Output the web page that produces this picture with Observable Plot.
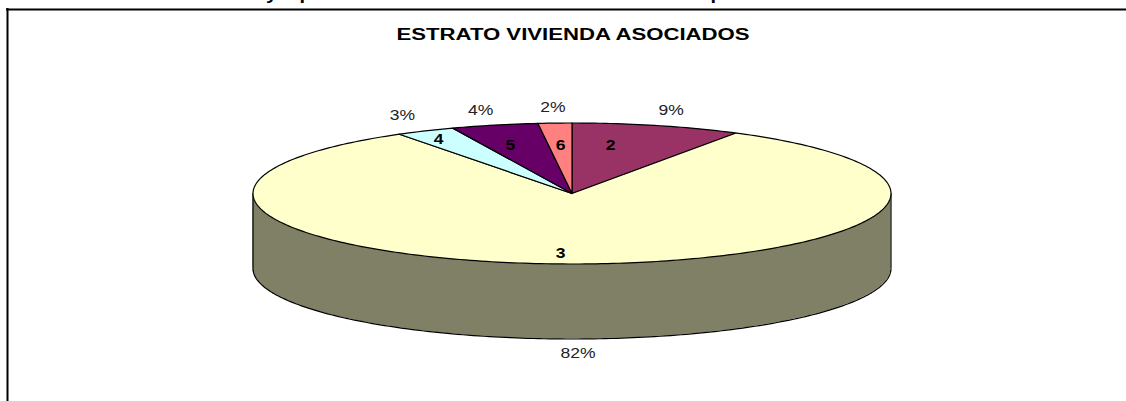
<!DOCTYPE html>
<html><head><meta charset="utf-8">
<script src="https://cdn.jsdelivr.net/npm/d3@7"></script>
<script src="https://cdn.jsdelivr.net/npm/@observablehq/plot@0.6"></script>
<style>html,body{margin:0;padding:0;background:#fff;overflow:hidden}svg{display:block;overflow:hidden}</style>
</head><body><div id="c"></div>
<script>
const chartTitle = "ESTRATO VIVIENDA ASOCIADOS";
const categories = ["2", "3", "4", "5", "6"];
const shares = [8.6, 82.3, 3.0, 4.4, 1.7];
const percentLabels = ["9%", "82%", "3%", "4%", "2%"];
const sliceColors = ["#993366", "#FFFFCC", "#CCFFFF", "#660066", "#FF8080"];
const wallColor = "#808066";

const font = "Liberation Sans, Arial, sans-serif";
const W = 1126, H = 401;
const cx = 571.5, rx = 319, cy = 193, ry = 70.5, depthPx = 75;
const depth = depthPx / ry;
const xRange = [cx - rx, cx + rx], yRange = [cy + ry, cy - ry];
const px2x = p => (p - cx) / rx;
const px2y = p => (cy - p) / ry;
const rad = a => a * Math.PI / 180;

// Slices run clockwise from 12 o'clock
const total = d3.sum(shares);
let acc = 0;
const slices = categories.map((c, i) => {
  const a0 = acc / total * 360; acc += shares[i];
  return {c, i, a0, a1: acc / total * 360, mid: (a0 + acc / total * 360) / 2, fill: sliceColors[i]};
});
const outline = [];
for (const s of slices) {
  outline.push({s: s.c, fill: s.fill, x: 0, y: 0});
  const n = Math.max(2, Math.ceil(s.a1 - s.a0));
  for (let k = 0; k <= n; k++) {
    const a = rad(s.a0 + (s.a1 - s.a0) * k / n);
    outline.push({s: s.c, fill: s.fill, x: Math.sin(a), y: Math.cos(a)});
  }
  outline.push({s: s.c, fill: s.fill, x: 0, y: 0});
}
const wall = d3.range(90, 271).map(a => ({x: Math.sin(rad(a)), y1: Math.cos(rad(a)), y2: Math.cos(rad(a)) - depth}));
const wallEdges = wall.flatMap(d => [{x: d.x, y: d.y2}]);

const innerNudge = [[-4, -14], [-14, 25], [-60, -23], [-23, -14], [-3, -13]];
const outerNudge = [[14, -15], [1, 90], [-23, -15], [-14, -15], [-2, -16]];
const fragments = [["y", 271], ["p", 305], ["p", 716]];

const labelMarks = slices.flatMap(s => [
  Plot.text([s], {x: d => 0.5 * Math.sin(rad(d.mid)), y: d => 0.5 * Math.cos(rad(d.mid)), text: d => d.c,
    dx: innerNudge[s.i][0], dy: innerNudge[s.i][1], fontFamily: font, fontSize: 14, fontWeight: "bold", fill: "#000"}),
  Plot.text([s], {x: d => Math.sin(rad(d.mid)), y: d => Math.cos(rad(d.mid)), text: d => percentLabels[d.i],
    dx: outerNudge[s.i][0], dy: outerNudge[s.i][1], fontFamily: font, fontSize: 14, fill: "#222"})
]);

const chart = Plot.plot({
  width: W, height: H, margin: 0,
  x: {type: "linear", domain: [-1, 1], range: xRange, axis: null},
  y: {type: "linear", domain: [-1, 1], range: yRange, axis: null},
  style: {background: "#fff"},
  marks: [
    Plot.ruleY([px2y(9)], {x1: px2x(6), x2: px2x(W), stroke: "#000", strokeWidth: 2}),
    Plot.ruleX([px2x(7)], {y1: px2y(8), y2: px2y(H), stroke: "#000", strokeWidth: 2}),
    Plot.text(fragments, {x: d => px2x(d[1]), y: px2y(-1), text: d => d[0], fontFamily: font, fontSize: 16, fontWeight: "bold", fill: "#000", lineAnchor: "bottom"}),
    Plot.text([chartTitle], {x: px2x(572.5), y: px2y(34.5), text: d => d, fontFamily: font, fontSize: 16, fontWeight: "bold", fill: "#000"}),
    Plot.areaY(wall, {x: "x", y1: "y1", y2: "y2", fill: wallColor, curve: "linear"}),
    Plot.line(wallEdges, {x: "x", y: "y", stroke: "#000", strokeWidth: 1.2, curve: "linear"}),
    Plot.ruleX([-1, 1], {y1: 0, y2: -depth, stroke: "#000", strokeWidth: 1.2}),
    Plot.line(outline, {x: "x", y: "y", z: "s", fill: "fill", stroke: "#000", strokeWidth: 1.2, curve: "linear", strokeLinejoin: "round"}),
    ...labelMarks
  ]
});
document.getElementById("c").appendChild(chart);
// The reference's text is stretched horizontally: widen glyphs to match.
chart.querySelectorAll("text").forEach(t => {
  const isTitle = t.textContent === chartTitle;
  const w = t.getComputedTextLength();
  t.setAttribute("textLength", isTitle ? 353 : w * 1.25);
  t.setAttribute("lengthAdjust", "spacingAndGlyphs");
});
</script></body></html>
